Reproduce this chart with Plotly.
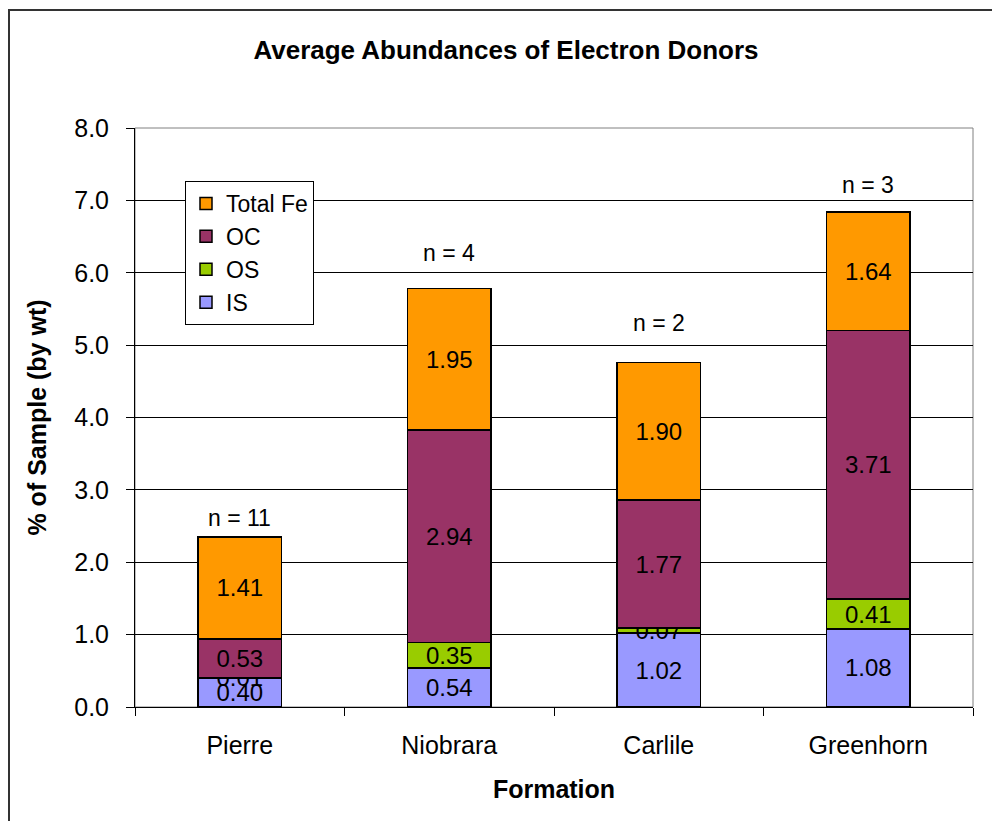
import plotly.graph_objects as go

formations = ["Pierre", "Niobrara", "Carlile", "Greenhorn"]
sample_counts = ["n = 11", "n = 4", "n = 2", "n = 3"]
is_vals = [0.40, 0.54, 1.02, 1.08]
os_vals = [0.01, 0.35, 0.07, 0.41]
oc_vals = [0.53, 2.94, 1.77, 3.71]
fe_vals = [1.41, 1.95, 1.90, 1.64]

series = [
    ("IS", is_vals, "#9999FF"),
    ("OS", os_vals, "#99CC00"),
    ("OC", oc_vals, "#993366"),
    ("Total Fe", fe_vals, "#FF9900"),
]

# pixel gaps between bar tops and the hand-placed "n =" labels (layout only)
count_label_gaps = [19, 36, 40, 27]

FONT = "Liberation Sans, Arial, sans-serif"

fig = go.Figure()
for name, vals, color in series:
    fig.add_trace(go.Bar(
        name=name, x=formations, y=vals,
        marker=dict(color=color, line=dict(color="black", width=1.5)),
        text=[f"{v:.2f}" for v in vals],
        textposition="inside", insidetextanchor="middle",
        textfont=dict(size=24, color="black", family=FONT),
        constraintext="none",
    ))

totals = [a + b + c + d for a, b, c, d in zip(is_vals, os_vals, oc_vals, fe_vals)]
for f, t, lab, gap in zip(formations, totals, sample_counts, count_label_gaps):
    fig.add_annotation(x=f, y=t, text=lab, showarrow=False, yanchor="middle",
                       yshift=gap, font=dict(size=23, color="black", family=FONT))

L, R, T, B = 135, 973, 128, 707
W, H = 992, 821
pw, ph = R - L, B - T

# outer chart frame
fig.add_shape(type="rect", xref="paper", yref="paper",
              x0=(9 - L) / pw, x1=(W + 20 - L) / pw,
              y0=(B - (H + 20)) / ph, y1=(B - 10) / ph,
              line=dict(color="#333333", width=2), layer="below")
# plot area border
fig.add_shape(type="rect", xref="paper", yref="paper", x0=0, x1=1, y0=0, y1=1,
              line=dict(color="#808080", width=1), layer="below")

fig.update_layout(
    width=W, height=H,
    margin=dict(l=L, r=W - R, t=T, b=H - B),
    barmode="stack", bargap=0.6,
    paper_bgcolor="white", plot_bgcolor="white",
    font=dict(family=FONT, color="black", size=24),
    uniformtext=dict(minsize=24, mode="show"),
    title=dict(text="<b>Average Abundances of Electron Donors</b>",
               x=506 / W, xanchor="center", y=1 - 50 / H, yanchor="middle",
               font=dict(size=26, family=FONT)),
    legend=dict(traceorder="reversed", x=(185 - L) / pw, y=(B - 181) / ph,
                xanchor="left", yanchor="top", bordercolor="black", borderwidth=1,
                bgcolor="white", font=dict(size=23, family=FONT),
                tracegroupgap=0, itemwidth=30),
    showlegend=True,
)
fig.update_yaxes(range=[0, 8], dtick=1, tickformat=".1f", showgrid=True,
                 gridcolor="black", gridwidth=1, showline=True, linecolor="black",
                 linewidth=1, ticks="outside", ticklen=8, tickcolor="black",
                 ticklabelstandoff=12, zeroline=False,
                 tickfont=dict(size=25, family=FONT),
                 title=dict(text="<b>% of Sample (by wt)</b>", standoff=20,
                            font=dict(size=25, family=FONT)))
fig.update_xaxes(showline=True, linecolor="black", linewidth=1, ticks="outside",
                 tickson="boundaries", ticklen=8, tickcolor="black",
                 ticklabelstandoff=16, tickfont=dict(size=25, family=FONT),
                 title=dict(text="<b>Formation</b>", standoff=22,
                            font=dict(size=25, family=FONT)))

fig.write_html("out.html", config={"displayModeBar": False},
               post_script="document.body.style.margin='0';")
